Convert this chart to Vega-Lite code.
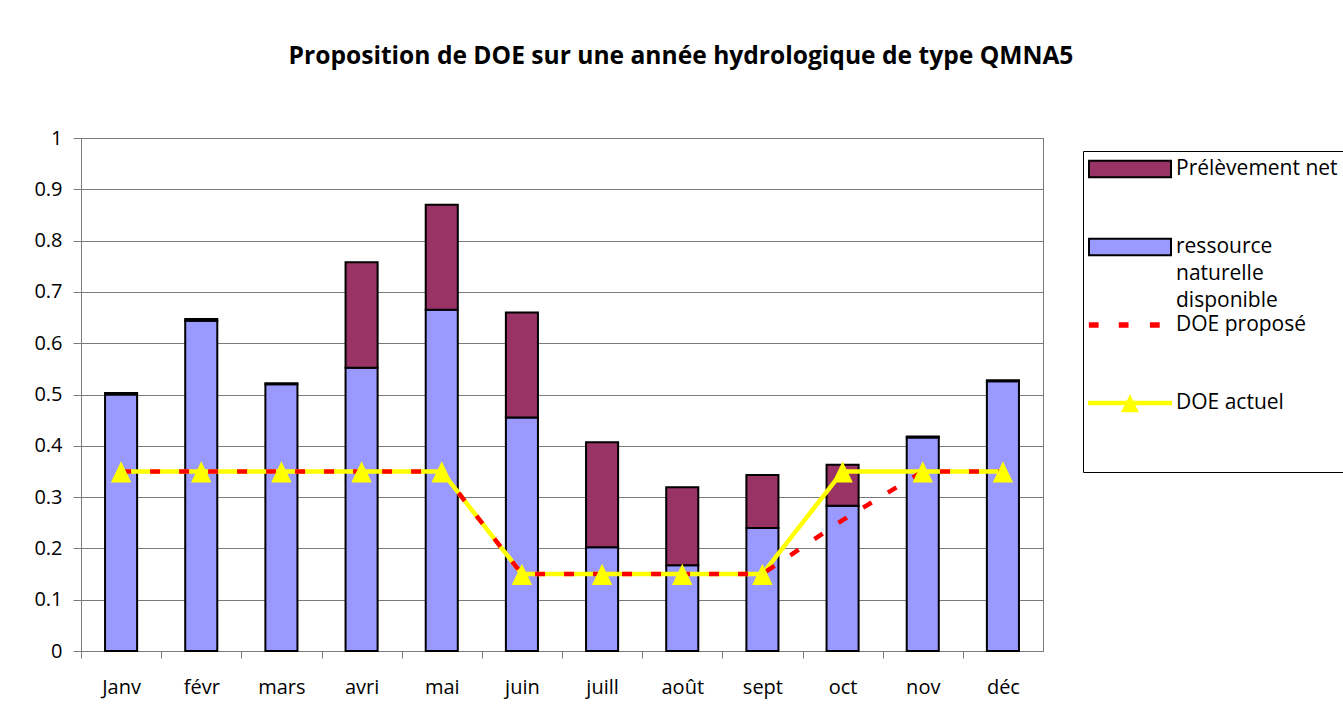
{
  "$schema": "https://vega.github.io/schema/vega-lite/v6.json",
  "width": 962,
  "height": 513,
  "autosize": {"type": "none"},
  "padding": {"left": 81, "top": 138, "right": 300, "bottom": 62},
  "background": "white",
  "config": {
    "font": "Open Sans",
    "view": {"stroke": "#7a7a7a", "strokeWidth": 1},
    "style": {"guide-label": {"lineHeight": 27}},
    "axis": {"labelFont": "Open Sans", "labelFontSize": 20, "labelColor": "black", "domainColor": "#7a7a7a", "tickColor": "#7a7a7a", "gridColor": "#7a7a7a", "title": null},
    "legend": {
      "orient": "none", "legendX": 1002, "legendY": 13,
      "strokeColor": "black", "padding": 5,
      "symbolSize": 6724, "symbolStrokeWidth": 2, "clipHeight": 26, "rowPadding": 1, "gridAlign": "all",
      "labelFont": "Open Sans", "labelFontSize": 21, "labelColor": "black", "labelOffset": 4, "labelLimit": 300
    }
  },
  "title": {
    "text": "Proposition de DOE sur une année hydrologique de type QMNA5",
    "font": "Open Sans", "fontSize": 24.6, "fontWeight": "bold", "color": "black",
    "anchor": "middle", "frame": "group", "dx": 119, "offset": 58
  },
  "data": {
    "values": [
      {"mois": "Janv", "serie": "ressource naturelle disponible", "valeur": 0.500},
      {"mois": "févr", "serie": "ressource naturelle disponible", "valeur": 0.644},
      {"mois": "mars", "serie": "ressource naturelle disponible", "valeur": 0.520},
      {"mois": "avri", "serie": "ressource naturelle disponible", "valeur": 0.552},
      {"mois": "mai", "serie": "ressource naturelle disponible", "valeur": 0.665},
      {"mois": "juin", "serie": "ressource naturelle disponible", "valeur": 0.455},
      {"mois": "juill", "serie": "ressource naturelle disponible", "valeur": 0.202},
      {"mois": "août", "serie": "ressource naturelle disponible", "valeur": 0.167},
      {"mois": "sept", "serie": "ressource naturelle disponible", "valeur": 0.240},
      {"mois": "oct", "serie": "ressource naturelle disponible", "valeur": 0.283},
      {"mois": "nov", "serie": "ressource naturelle disponible", "valeur": 0.416},
      {"mois": "déc", "serie": "ressource naturelle disponible", "valeur": 0.526},
      {"mois": "Janv", "serie": "Prélèvement net", "valeur": 0.003},
      {"mois": "févr", "serie": "Prélèvement net", "valeur": 0.003},
      {"mois": "mars", "serie": "Prélèvement net", "valeur": 0.002},
      {"mois": "avri", "serie": "Prélèvement net", "valeur": 0.206},
      {"mois": "mai", "serie": "Prélèvement net", "valeur": 0.205},
      {"mois": "juin", "serie": "Prélèvement net", "valeur": 0.205},
      {"mois": "juill", "serie": "Prélèvement net", "valeur": 0.205},
      {"mois": "août", "serie": "Prélèvement net", "valeur": 0.152},
      {"mois": "sept", "serie": "Prélèvement net", "valeur": 0.103},
      {"mois": "oct", "serie": "Prélèvement net", "valeur": 0.080},
      {"mois": "nov", "serie": "Prélèvement net", "valeur": 0.002},
      {"mois": "déc", "serie": "Prélèvement net", "valeur": 0.002},
      {"mois": "Janv", "serie": "DOE proposé", "valeur": 0.35},
      {"mois": "févr", "serie": "DOE proposé", "valeur": 0.35},
      {"mois": "mars", "serie": "DOE proposé", "valeur": 0.35},
      {"mois": "avri", "serie": "DOE proposé", "valeur": 0.35},
      {"mois": "mai", "serie": "DOE proposé", "valeur": 0.35},
      {"mois": "juin", "serie": "DOE proposé", "valeur": 0.15},
      {"mois": "juill", "serie": "DOE proposé", "valeur": 0.15},
      {"mois": "août", "serie": "DOE proposé", "valeur": 0.15},
      {"mois": "sept", "serie": "DOE proposé", "valeur": 0.15},
      {"mois": "oct", "serie": "DOE proposé", "valeur": 0.255},
      {"mois": "nov", "serie": "DOE proposé", "valeur": 0.35},
      {"mois": "déc", "serie": "DOE proposé", "valeur": 0.35},
      {"mois": "Janv", "serie": "DOE actuel", "valeur": 0.35},
      {"mois": "févr", "serie": "DOE actuel", "valeur": 0.35},
      {"mois": "mars", "serie": "DOE actuel", "valeur": 0.35},
      {"mois": "avri", "serie": "DOE actuel", "valeur": 0.35},
      {"mois": "mai", "serie": "DOE actuel", "valeur": 0.35},
      {"mois": "juin", "serie": "DOE actuel", "valeur": 0.15},
      {"mois": "juill", "serie": "DOE actuel", "valeur": 0.15},
      {"mois": "août", "serie": "DOE actuel", "valeur": 0.15},
      {"mois": "sept", "serie": "DOE actuel", "valeur": 0.15},
      {"mois": "oct", "serie": "DOE actuel", "valeur": 0.35},
      {"mois": "nov", "serie": "DOE actuel", "valeur": 0.35},
      {"mois": "déc", "serie": "DOE actuel", "valeur": 0.35}
    ]
  },
  "encoding": {
    "x": {
      "field": "mois", "type": "nominal", "sort": null,
      "scale": {"paddingInner": 0.6, "paddingOuter": 0.3},
      "axis": {"labelAngle": 0, "tickOffset": -40, "labelOffset": 40, "tickSize": 7, "labelPadding": 19, "grid": false}
    }
  },
  "layer": [
    {
      "transform": [{"filter": "datum.serie == 'ressource naturelle disponible' || datum.serie == 'Prélèvement net'"}],
      "mark": {"type": "bar", "opacity": 1, "strokeWidth": 2},
      "encoding": {
        "y": {"field": "valeur", "type": "quantitative", "stack": "zero",
          "scale": {"domain": [0, 1], "nice": false},
          "axis": {"values": [0, 0.1, 0.2, 0.3, 0.4, 0.5, 0.6, 0.7, 0.8, 0.9, 1], "format": "~g", "tickSize": 8, "labelPadding": 11, "grid": true}},
        "order": {"field": "serie", "sort": "descending"},
        "fill": {
          "field": "serie", "type": "nominal",
          "scale": {"domain": ["Prélèvement net", "ressource naturelle disponible", "DOE proposé", "DOE actuel"], "range": ["#993366", "#9999FF", "#FF0000", "#FFFF00"]},
          "legend": {"title": null, "labelExpr": "datum.label == 'ressource naturelle disponible' ? ['ressource', 'naturelle', 'disponible'] : datum.label == 'DOE actuel' ? ['DOE actuel', '', ''] : datum.label"}
        },
        "stroke": {
          "field": "serie", "type": "nominal",
          "scale": {"domain": ["Prélèvement net", "ressource naturelle disponible", "DOE proposé", "DOE actuel"], "range": ["black", "black", "#FF0000", "#FFFF00"]},
          "legend": {"title": null, "labelExpr": "datum.label == 'ressource naturelle disponible' ? ['ressource', 'naturelle', 'disponible'] : datum.label == 'DOE actuel' ? ['DOE actuel', '', ''] : datum.label"}
        }
      }
    },
    {
      "transform": [{"filter": "datum.serie == 'DOE actuel'"}],
      "mark": {"type": "line", "strokeWidth": 4.5},
      "encoding": {
        "y": {"field": "valeur", "type": "quantitative"},
        "stroke": {"field": "serie", "type": "nominal"}
      }
    },
    {
      "transform": [{"filter": "datum.serie == 'DOE proposé'"}],
      "mark": {"type": "line", "strokeWidth": 4.5, "strokeDash": [10, 19]},
      "encoding": {
        "y": {"field": "valeur", "type": "quantitative"},
        "stroke": {"field": "serie", "type": "nominal"}
      }
    },
    {
      "transform": [{"filter": "datum.serie == 'DOE actuel'"}],
      "mark": {"type": "point", "filled": true, "opacity": 1, "size": 6724, "strokeWidth": 0, "color": "#FFFF00", "shape": "M-0.25,0.27L0,-0.25L0.25,0.27Z"},
      "encoding": {
        "y": {"field": "valeur", "type": "quantitative"}
      }
    },
    {
      "transform": [{"filter": "datum.serie == 'aucune'"}],
      "mark": {"type": "point", "filled": true, "opacity": 1},
      "encoding": {
        "y": {"field": "valeur", "type": "quantitative"},
        "shape": {
          "field": "serie", "type": "nominal",
          "scale": {"domain": ["Prélèvement net", "ressource naturelle disponible", "DOE proposé", "DOE actuel"], "range": ["M-1,-0.2H1V0.2H-1Z", "M-1,-0.2H1V0.2H-1Z", "M-0.98,-0.04H-0.79V0.04H-0.98Z M-0.25,-0.04H-0.06V0.04H-0.25Z M0.51,-0.04H0.7V0.04H0.51Z", "M-1,-0.03H1V0.03H-1Z M-0.18,0.2L0,-0.16L0.18,0.2Z"]},
          "legend": {"title": null, "labelExpr": "datum.label == 'ressource naturelle disponible' ? ['ressource', 'naturelle', 'disponible'] : datum.label == 'DOE actuel' ? ['DOE actuel', '', ''] : datum.label"}
        }
      }
    }
  ]
}
